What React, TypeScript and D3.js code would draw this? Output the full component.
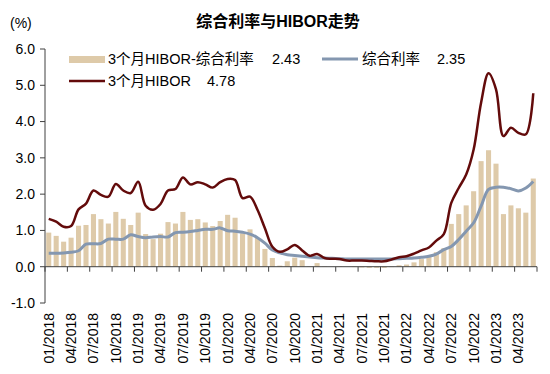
import React from "react";
import * as d3 from "d3";

const months: string[] = [
  "01/2018","02/2018","03/2018","04/2018","05/2018","06/2018","07/2018","08/2018","09/2018","10/2018","11/2018","12/2018",
  "01/2019","02/2019","03/2019","04/2019","05/2019","06/2019","07/2019","08/2019","09/2019","10/2019","11/2019","12/2019",
  "01/2020","02/2020","03/2020","04/2020","05/2020","06/2020","07/2020","08/2020","09/2020","10/2020","11/2020","12/2020",
  "01/2021","02/2021","03/2021","04/2021","05/2021","06/2021","07/2021","08/2021","09/2021","10/2021","11/2021","12/2021",
  "01/2022","02/2022","03/2022","04/2022","05/2022","06/2022","07/2022","08/2022","09/2022","10/2022","11/2022","12/2022",
  "01/2023","02/2023","03/2023","04/2023","05/2023","06/2023",
];

const spread: number[] = [
  0.94, 0.85, 0.69, 0.80, 1.13, 1.15, 1.45, 1.31, 1.19, 1.51, 1.32, 1.15,
  1.49, 0.90, 0.76, 0.91, 1.23, 1.19, 1.51, 1.29, 1.31, 1.22, 1.12, 1.26,
  1.43, 1.35, 0.92, 1.03, 0.79, 0.49, 0.24, 0.03, 0.15, 0.25, 0.18, 0.01,
  0.10, 0.01, 0.00, 0.01, 0.00, -0.01, -0.02, -0.03, -0.03, -0.03, -0.01, 0.04,
  0.06, 0.12, 0.21, 0.27, 0.40, 0.51, 1.18, 1.45, 1.69, 2.08, 2.91, 3.21,
  2.84, 1.45, 1.69, 1.61, 1.49, 2.43,
];

const composite: number[] = [
  0.37, 0.37, 0.38, 0.40, 0.44, 0.62, 0.63, 0.64, 0.76, 0.76, 0.76, 0.88,
  0.83, 0.80, 0.82, 0.83, 0.82, 0.94, 0.95, 0.97, 1.00, 1.03, 1.03, 1.07,
  0.99, 0.98, 0.95, 0.90, 0.80, 0.65, 0.46, 0.38, 0.33, 0.31, 0.29, 0.27,
  0.25, 0.24, 0.23, 0.22, 0.21, 0.21, 0.21, 0.21, 0.21, 0.21, 0.21, 0.22,
  0.23, 0.24, 0.26, 0.29, 0.35, 0.47, 0.56, 0.75, 0.98, 1.21, 1.67, 2.13,
  2.19, 2.19, 2.15, 2.09, 2.17, 2.35,
];

const hibor: number[] = [
  1.32, 1.24, 1.10, 1.12, 1.58, 1.74, 2.10, 1.98, 1.93, 2.28, 2.10, 2.03,
  2.34, 1.68, 1.57, 1.73, 2.10, 2.14, 2.46, 2.27, 2.33, 2.27, 2.18, 2.33,
  2.42, 2.39, 1.89, 1.93, 1.57, 1.06, 0.55, 0.41, 0.48, 0.60, 0.45, 0.30,
  0.35, 0.24, 0.22, 0.21, 0.17, 0.17, 0.17, 0.16, 0.15, 0.15, 0.20, 0.26,
  0.29, 0.36, 0.45, 0.53, 0.72, 0.90, 1.76, 2.17, 2.54, 3.23, 4.52, 5.33,
  4.89, 3.60, 3.83, 3.69, 3.65, 4.78,
];

const yTicks: number[] = [-1, 0, 1, 2, 3, 4, 5, 6];
const titleText = "综合利率与HIBOR走势";
const legendSpread = { label: "3个月HIBOR-综合利率", value: "2.43" };
const legendComposite = { label: "综合利率", value: "2.35" };
const legendHibor = { label: "3个月HIBOR", value: "4.78" };

const BAR = "#DECAA9";
const BLUE = "#8497B0";
const RED = "#630B0B";
const AXIS = "#404040";
const FONT = "'Liberation Sans', Arial, 'Noto Sans CJK SC', sans-serif";

export default function App() {
  const W = 550, H = 374;
  const x0 = 45, x1 = 537;
  const x = d3.scaleBand<string>().domain(months).range([x0, x1]).paddingInner(0.32).paddingOuter(0.16);
  const step = (x1 - x0) / months.length;
  const cx = (i: number) => x0 + (i + 0.5) * step;
  const y = d3.scaleLinear().domain([-1, 6]).range([303, 49]);

  const line = d3.line<number>().x((_, i) => cx(i)).y((d) => y(d)).curve(d3.curveCatmullRom.alpha(0.5));

  const tickIdx = months.map((_, i) => i).filter((i) => i % 3 === 0);

  return (
    <svg width={W} height={H} style={{ position: "absolute", left: 0, top: 0, background: "#fff" }} fontFamily={FONT}>
      <text x={278} y={27} textAnchor="middle" fontSize={16} fontWeight="bold" fill="#000">{titleText}</text>
      <text x={10} y={28} fontSize={14} fill="#000">(%)</text>

      {/* bars */}
      {spread.map((v, i) => (
        <rect key={i} x={x(months[i])} width={x.bandwidth()} y={Math.min(y(v), y(0))} height={Math.abs(y(v) - y(0))} fill={BAR} />
      ))}

      {/* lines */}
      <path d={line(composite) || ""} fill="none" stroke={BLUE} strokeWidth={3} strokeLinejoin="round" />
      <path d={line(hibor) || ""} fill="none" stroke={RED} strokeWidth={2.5} strokeLinejoin="round" />

      {/* y axis */}
      <line x1={x0} x2={x0} y1={y(6)} y2={y(-1)} stroke={AXIS} strokeWidth={1} />
      {yTicks.map((t) => (
        <g key={t}>
          <line x1={x0 - 5} x2={x0} y1={y(t)} y2={y(t)} stroke={AXIS} />
          <text x={35} y={y(t)} dy="0.35em" textAnchor="end" fontSize={14} fill="#000">{t.toFixed(1)}</text>
        </g>
      ))}

      {/* x axis */}
      <line x1={x0} x2={x1} y1={y(0)} y2={y(0)} stroke={AXIS} strokeWidth={1} />
      {[...tickIdx, months.length].map((i) => (
        <line key={"t" + i} x1={x0 + i * step} x2={x0 + i * step} y1={y(0)} y2={y(0) + 5} stroke={AXIS} />
      ))}
      {tickIdx.map((i) => (
        <text key={"l" + i} transform={`translate(${cx(i)},313) rotate(-90)`} dy="0.35em" textAnchor="end" fontSize={14} fill="#000">{months[i]}</text>
      ))}

      {/* legend */}
      <rect x={69} y={56} width={36} height={7} fill={BAR} />
      <text x={108} y={59} dy="0.35em" fontSize={14.5} fill="#000">{legendSpread.label}</text>
      <text x={272} y={59} dy="0.35em" fontSize={14.5} fill="#000">{legendSpread.value}</text>
      <line x1={322} x2={358} y1={59} y2={59} stroke={BLUE} strokeWidth={3} />
      <text x={362} y={59} dy="0.35em" fontSize={14.5} fill="#000">{legendComposite.label}</text>
      <text x={437} y={59} dy="0.35em" fontSize={14.5} fill="#000">{legendComposite.value}</text>
      <line x1={69} x2={105} y1={81} y2={81} stroke={RED} strokeWidth={2.5} />
      <text x={108} y={81} dy="0.35em" fontSize={14.5} fill="#000">{legendHibor.label}</text>
      <text x={207} y={81} dy="0.35em" fontSize={14.5} fill="#000">{legendHibor.value}</text>
    </svg>
  );
}
